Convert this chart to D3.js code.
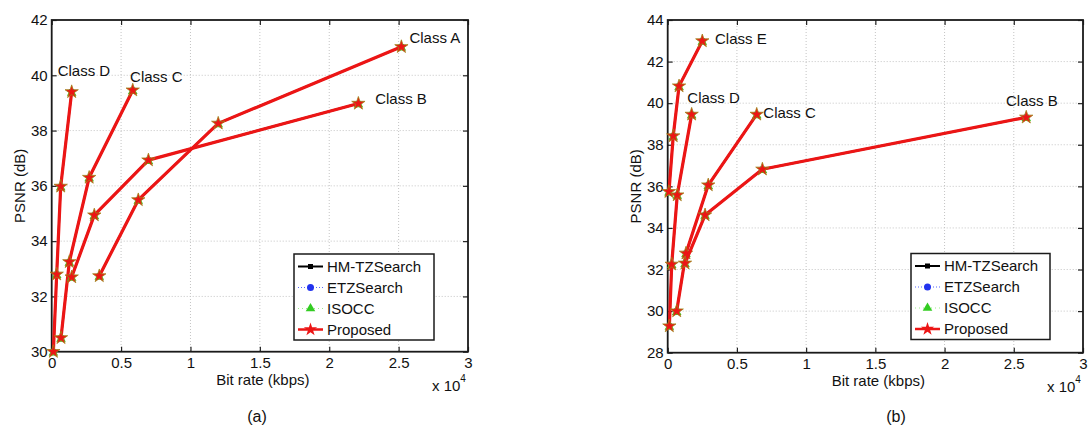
<!DOCTYPE html>
<html><head><meta charset="utf-8">
<script src="https://cdn.jsdelivr.net/npm/d3@7"></script>
<style>body{margin:0;background:#fff}svg{display:block}text{font-family:"Liberation Sans",Arial,sans-serif}</style>
</head><body><svg id="c" width="1088" height="428"></svg>
<script>
// ---------- data ----------
const methods = ["HM-TZSearch", "ETZSearch", "ISOCC", "Proposed"];
const xTicks = [0, 5000, 10000, 15000, 20000, 25000, 30000];
const xTickLabels = ["0", "0.5", "1", "1.5", "2", "2.5", "3"];
const yTicksA = [30, 32, 34, 36, 38, 40, 42];
const yTicksB = [28, 30, 32, 34, 36, 38, 40, 42, 44];

// panel (a): bit rate (kbps) and PSNR (dB) per class (all methods overlap)
const aClassA_rate = [3430, 6240, 12000, 25200];
const aClassA_psnr = [32.74, 35.49, 38.26, 41.03];
const aClassB_rate = [1440, 3070, 6970, 22100];
const aClassB_psnr = [32.7, 34.94, 36.93, 38.98];
const aClassC_rate = [670, 1270, 2700, 5840];
const aClassC_psnr = [30.5, 33.25, 36.3, 39.46];
const aClassD_rate = [120, 360, 650, 1440];
const aClassD_psnr = [30.0, 32.8, 35.98, 39.4];

// panel (b)
const bClassB_rate = [1250, 2700, 6840, 25900];
const bClassB_psnr = [32.3, 34.62, 36.82, 39.32];
const bClassC_rate = [650, 1320, 2930, 6430];
const bClassC_psnr = [30.0, 32.78, 36.06, 39.46];
const bClassD_rate = [120, 290, 690, 1730];
const bClassD_psnr = [29.28, 32.25, 35.58, 39.46];
const bClassE_rate = [90, 400, 820, 2500];
const bClassE_psnr = [35.74, 38.42, 40.82, 42.99];

// class annotations (data coordinates)
const aLabels = [["Class A", 25780, 41.15], ["Class B", 23310, 38.96], ["Class C", 5650, 39.77], ["Class D", 430, 39.97]];
const bLabels = [["Class E", 3420, 42.85], ["Class D", 1420, 40.0], ["Class C", 6910, 39.27], ["Class B", 24440, 39.87]];

// ---------- drawing ----------
const svg = d3.select("#c");
const RED = "#ec1515";

function panel(cfg) {
  const g = svg.append("g");
  const x = d3.scaleLinear().domain([0, 30000]).range([cfg.x0, cfg.x1]);
  const y = d3.scaleLinear().domain(cfg.yDomain).range([cfg.y1, cfg.y0]);

  // grid
  g.append("g").selectAll("line").data(xTicks.slice(1, -1)).join("line")
    .attr("x1", d => x(d)).attr("x2", d => x(d)).attr("y1", cfg.y0).attr("y2", cfg.y1)
    .attr("stroke", "#c4c4c4").attr("stroke-width", 1).attr("stroke-dasharray", "1,2");
  g.append("g").selectAll("line").data(cfg.yTicks.slice(1, -1)).join("line")
    .attr("y1", d => y(d)).attr("y2", d => y(d)).attr("x1", cfg.x0).attr("x2", cfg.x1)
    .attr("stroke", "#c4c4c4").attr("stroke-width", 1).attr("stroke-dasharray", "1,2");

  // axes with inward ticks on all sides
  const ax = g.append("g").attr("transform", `translate(0,${cfg.y1})`)
    .call(d3.axisBottom(x).tickValues(xTicks).tickFormat((d, i) => xTickLabels[i]).tickSizeInner(-5).tickSizeOuter(0).tickPadding(6));
  const axT = g.append("g").attr("transform", `translate(0,${cfg.y0})`)
    .call(d3.axisTop(x).tickValues(xTicks).tickFormat("").tickSizeInner(-5).tickSizeOuter(0));
  const ay = g.append("g").attr("transform", `translate(${cfg.x0},0)`)
    .call(d3.axisLeft(y).tickValues(cfg.yTicks).tickSizeInner(-5).tickSizeOuter(0).tickPadding(4));
  const ayR = g.append("g").attr("transform", `translate(${cfg.x1},0)`)
    .call(d3.axisRight(y).tickValues(cfg.yTicks).tickFormat("").tickSizeInner(-5).tickSizeOuter(0));
  [ax, axT, ay, ayR].forEach(a => {
    a.select(".domain").remove();
    a.selectAll("line").attr("stroke", "#222").attr("stroke-width", 1.2);
    a.selectAll("text").attr("font-size", 15).attr("fill", "#111")
      .attr("font-family", '"Liberation Sans",Arial,sans-serif');
  });
  ax.selectAll("text").attr("dy", "0.71em");
  g.append("rect").attr("x", cfg.x0).attr("y", cfg.y0).attr("width", cfg.x1 - cfg.x0).attr("height", cfg.y1 - cfg.y0)
    .attr("fill", "none").attr("stroke", "#1a1a1a").attr("stroke-width", 1.8);

  // series (all methods coincide; proposed on top)
  const line = d3.line().x(d => x(d[0])).y(d => y(d[1]));
  const tri = d3.symbol().type(d3.symbolTriangle).size(40);
  const star = d3.symbol().type(d3.symbolStar).size(55);
  cfg.classes.forEach(c => {
    const pts = c[0].map((r, i) => [r, c[1][i]]);
    // HM-TZSearch
    g.append("path").datum(pts).attr("d", line).attr("fill", "none").attr("stroke", "#000").attr("stroke-width", 2);
    g.append("g").selectAll("rect").data(pts).join("rect")
      .attr("x", d => x(d[0]) - 2.5).attr("y", d => y(d[1]) - 2.5).attr("width", 5).attr("height", 5).attr("fill", "#000");
    // ETZSearch
    g.append("path").datum(pts).attr("d", line).attr("fill", "none").attr("stroke", "#2233ee").attr("stroke-width", 1.5).attr("stroke-dasharray", "1,2");
    g.append("g").selectAll("circle").data(pts).join("circle")
      .attr("cx", d => x(d[0])).attr("cy", d => y(d[1])).attr("r", 3).attr("fill", "#2233ee");
    // ISOCC
    g.append("g").selectAll("path").data(pts).join("path")
      .attr("d", tri).attr("transform", d => `translate(${x(d[0])},${y(d[1]) + 1})`).attr("fill", "#33cc22");
    // Proposed
    g.append("path").datum(pts).attr("d", line).attr("fill", "none").attr("stroke", RED).attr("stroke-width", 3.2).attr("stroke-linejoin", "round");
    g.append("g").selectAll("path").data(pts).join("path")
      .attr("d", star).attr("transform", d => `translate(${x(d[0])},${y(d[1])})`)
      .attr("fill", RED).attr("stroke", "#a08418").attr("stroke-width", 0.8);
  });

  // class labels
  g.append("g").selectAll("text").data(cfg.labels).join("text")
    .attr("x", d => x(d[1])).attr("y", d => y(d[2])).attr("font-size", 15).attr("fill", "#111").text(d => d[0]);

  // axis titles
  g.append("text").attr("x", (cfg.x0 + cfg.x1) / 2 + 3).attr("y", cfg.y1 + 33).attr("text-anchor", "middle")
    .attr("font-size", 15).attr("fill", "#111").text("Bit rate (kbps)");
  g.append("text").attr("transform", `translate(${cfg.x0 - 27},${(cfg.y0 + cfg.y1) / 2}) rotate(-90)`)
    .attr("text-anchor", "middle").attr("font-size", 15).attr("fill", "#111").text("PSNR (dB)");
  const ex = g.append("text").attr("x", cfg.x1 - 36).attr("y", cfg.y1 + 39).attr("font-size", 15).attr("fill", "#111");
  ex.append("tspan").text("x 10");
  ex.append("tspan").attr("dy", -9).attr("font-size", 10).text("4");
  g.append("text").attr("x", cfg.capX).attr("y", 422).attr("text-anchor", "middle")
    .attr("font-family", '"Liberation Serif","Times New Roman",serif').attr("font-size", 16).attr("fill", "#111").text(cfg.caption);

  // legend
  const L = cfg.legend;
  g.append("rect").attr("x", L.x).attr("y", L.y).attr("width", L.w).attr("height", 86)
    .attr("fill", "#fff").attr("stroke", "#1a1a1a").attr("stroke-width", 1.5);
  methods.forEach((m, i) => {
    const cy = L.y + 12.5 + i * 21;
    const lx0 = L.x + 4, lx1 = L.x + 29, mx = (lx0 + lx1) / 2;
    const it = g.append("g");
    if (i === 0) {
      it.append("line").attr("x1", lx0).attr("x2", lx1).attr("y1", cy).attr("y2", cy).attr("stroke", "#000").attr("stroke-width", 2);
      it.append("rect").attr("x", mx - 2.5).attr("y", cy - 2.5).attr("width", 5).attr("height", 5).attr("fill", "#000");
    } else if (i === 1) {
      it.append("line").attr("x1", lx0).attr("x2", lx1).attr("y1", cy).attr("y2", cy).attr("stroke", "#5566ff").attr("stroke-width", 1.2).attr("stroke-dasharray", "1,2");
      it.append("circle").attr("cx", mx).attr("cy", cy).attr("r", 3.5).attr("fill", "#2233ee");
    } else if (i === 2) {
      it.append("line").attr("x1", lx0).attr("x2", lx1).attr("y1", cy).attr("y2", cy).attr("stroke", "#99ee88").attr("stroke-width", 1).attr("stroke-dasharray", "1,3");
      it.append("path").attr("d", tri).attr("transform", `translate(${mx},${cy})`).attr("fill", "#33cc22");
    } else {
      it.append("line").attr("x1", lx0).attr("x2", lx1).attr("y1", cy).attr("y2", cy).attr("stroke", RED).attr("stroke-width", 2.5);
      it.append("path").attr("d", star).attr("transform", `translate(${mx},${cy})`).attr("fill", RED);
    }
    it.append("text").attr("x", L.x + 33).attr("y", cy + 5).attr("font-size", 15).attr("fill", "#111").text(m);
  });
}

panel({
  x0: 51.7, x1: 468, y0: 20, y1: 351.7, yDomain: [30, 42], yTicks: yTicksA,
  classes: [[aClassD_rate, aClassD_psnr], [aClassC_rate, aClassC_psnr], [aClassB_rate, aClassB_psnr], [aClassA_rate, aClassA_psnr]],
  labels: aLabels, caption: "(a)", capX: 257,
  legend: { x: 294, y: 254, w: 140 }
});
panel({
  x0: 667.7, x1: 1083, y0: 20, y1: 352.7, yDomain: [28, 44], yTicks: yTicksB,
  classes: [[bClassE_rate, bClassE_psnr], [bClassD_rate, bClassD_psnr], [bClassC_rate, bClassC_psnr], [bClassB_rate, bClassB_psnr]],
  labels: bLabels, caption: "(b)", capX: 896,
  legend: { x: 911, y: 253.5, w: 139 }
});
</script></body></html>
